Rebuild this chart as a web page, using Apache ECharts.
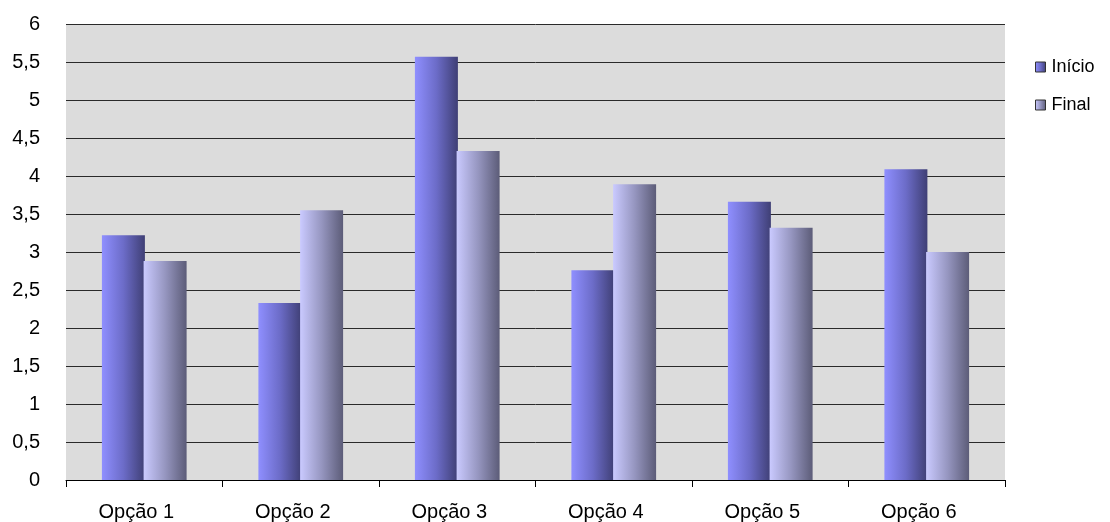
<!DOCTYPE html>
<html>
<head>
<meta charset="utf-8">
<script src="https://cdn.jsdelivr.net/npm/echarts@6/dist/echarts.min.js"></script>
<style>
    html, body { margin: 0; padding: 0; background: #fff; }
    #chart { width: 1110px; height: 522px; }
</style>
</head>
<body>
<div id="chart"></div>
<script type="text/javascript">
    var categories = ['Opção 1', 'Opção 2', 'Opção 3', 'Opção 4', 'Opção 5', 'Opção 6'];
    var inicio = [3.22, 2.33, 5.57, 2.76, 3.66, 4.09];
    var final = [2.88, 3.55, 4.33, 3.89, 3.32, 3.0];
    var seriesNames = ['Início', 'Final'];

    function grad(c1, c2, c3) {
        return new echarts.graphic.LinearGradient(0, 0, 1, 0, [
            {offset: 0, color: c1},
            {offset: 0.5, color: c2},
            {offset: 1, color: c3}
        ]);
    }

    var MYCHART = echarts.init(document.getElementById('chart'));
    var option = {
        animation: false,
        textStyle: {fontFamily: 'Liberation Sans, Arial, sans-serif'},
        legend: {
            orient: 'vertical',
            left: 1030,
            top: 53,
            itemWidth: 10,
            itemHeight: 10,
            itemGap: 20,
            icon: 'rect',
            itemStyle: {borderColor: '#333', borderWidth: 1},
            textStyle: {fontSize: 18, color: '#000', padding: [0, 0, 0, 1]},
            data: seriesNames
        },
        grid: {
            left: 66, right: 105, top: 24, bottom: 42,
            show: true,
            backgroundColor: '#dcdcdc',
            borderWidth: 0
        },
        xAxis: {
            type: 'category',
            data: categories,
            axisLine: {lineStyle: {color: '#000', width: 1}},
            axisTick: {show: true, length: 7, lineStyle: {color: '#000'}},
            // labels sit a bit left of the category centre in the original
            axisLabel: {fontSize: 20, color: '#000', margin: 22, padding: [0, 16, 0, 0]}
        },
        yAxis: {
            type: 'value',
            min: 0,
            max: 6,
            interval: 0.5,
            axisLine: {show: false},
            axisTick: {show: false},
            axisLabel: {
                fontSize: 20, color: '#000', margin: 26,
                formatter: function (v) { return String(v).replace('.', ','); }
            },
            splitLine: {lineStyle: {color: '#2a2a2a', width: 1}}
        },
        series: [
            {
                name: seriesNames[0],
                type: 'bar',
                barWidth: 43,
                barGap: '-3%',
                data: inicio,
                itemStyle: {color: grad('#8f8fff', '#6c6cc8', '#3f3f75')}
            },
            {
                name: seriesNames[1],
                type: 'bar',
                barWidth: 43,
                data: final,
                itemStyle: {color: grad('#cacaff', '#9696c0', '#5c5c78')}
            }
        ]
    };
    MYCHART.setOption(option);
</script>
</body>
</html>
